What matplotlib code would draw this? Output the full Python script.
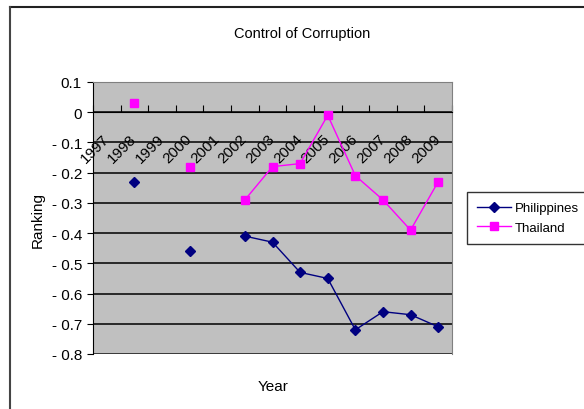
import numpy as np
import matplotlib
matplotlib.use("Agg")
import matplotlib.pyplot as plt
from matplotlib.lines import Line2D

plt.rcParams['font.family'] = ['Liberation Sans', 'DejaVu Sans']

years = ["1997", "1998", "1999", "2000", "2001", "2002", "2003", "2004",
         "2005", "2006", "2007", "2008", "2009"]
nan = np.nan
philippines = [nan, -0.23, nan, -0.46, nan, -0.41, -0.43, -0.53, -0.55, -0.72, -0.66, -0.67, -0.71]
thailand = [nan, 0.03, nan, -0.18, nan, -0.29, -0.18, -0.17, -0.01, -0.21, -0.29, -0.39, -0.23]
yticks = [0.1, 0, -0.1, -0.2, -0.3, -0.4, -0.5, -0.6, -0.7, -0.8]
ytick_labels = ["0.1", "0", "- 0.1", "- 0.2", "- 0.3", "- 0.4", "- 0.5", "- 0.6", "- 0.7", "- 0.8"]

fig = plt.figure(figsize=(5.84, 4.10), dpi=100)
fig.patch.set_facecolor('white')
ax = fig.add_axes([93/584, 1-355/410, (452-93)/584, (355-83)/410])
ax.set_facecolor('#C0C0C0')

x = np.arange(len(years))
ax.set_xlim(-0.5, len(years)-0.5)
ax.set_ylim(-0.8, 0.1)

for y in yticks:
    ax.axhline(y, color='black', lw=1.1, zorder=1)

ax.plot(x, philippines, color='#000080', marker='D', ms=5.5, lw=1, label='Philippines', zorder=3)
ax.plot(x, thailand, color='#FF00FF', marker='s', ms=5.5, lw=1, label='Thailand', zorder=3)

# spines
for s in ['top', 'right']:
    ax.spines[s].set_color('#808080')
ax.spines['left'].set_color('black')
ax.spines['bottom'].set_position(('data', 0))
ax.spines['bottom'].set_color('black')

ax.set_yticks(yticks)
ax.set_yticklabels(ytick_labels, fontsize=11)
ax.tick_params(axis='y', direction='out', length=4, color='black', pad=4)

ax.set_xticks(np.arange(-0.5, len(years)), minor=False)
ax.set_xticklabels([])
ax.tick_params(axis='x', which='major', direction='in', length=5, color='black')
ax.set_xticks(x, minor=True)
ax.set_xticklabels(years, minor=True, rotation=45, ha='right', va='center',
                   rotation_mode='anchor', fontsize=11)
ax.tick_params(axis='x', which='minor', length=0, pad=17)

# bottom frame line of plot area
ax.add_line(Line2D([0, 1], [0, 0], transform=ax.transAxes, color='#808080', lw=1))

fig.text(302/584, 1-34/410, 'Control of Corruption', ha='center', va='center', fontsize=10.5)
fig.text(38/584, 1-220/410, 'Ranking', ha='center', va='center', rotation=90, fontsize=11)
fig.text(273/584, 1-387/410, 'Year', ha='center', va='center', fontsize=11)

leg = fig.legend(loc='upper left', bbox_to_anchor=(467/584, 1-193/410), fontsize=9.5,
                 frameon=True, fancybox=False, borderaxespad=0, handlelength=2.6,
                 borderpad=0.75, labelspacing=0.55, handletextpad=0.3)
leg.get_frame().set_edgecolor('black')
leg.get_frame().set_linewidth(1)

# chart area border (top and left)
fig.add_artist(Line2D([10/584, 1], [1-8/410, 1-8/410], transform=fig.transFigure, color='#222222', lw=1.5))
fig.add_artist(Line2D([10/584, 10/584], [0, 1-8/410], transform=fig.transFigure, color='#444444', lw=1.5))

fig.savefig('out.png', dpi=100)
